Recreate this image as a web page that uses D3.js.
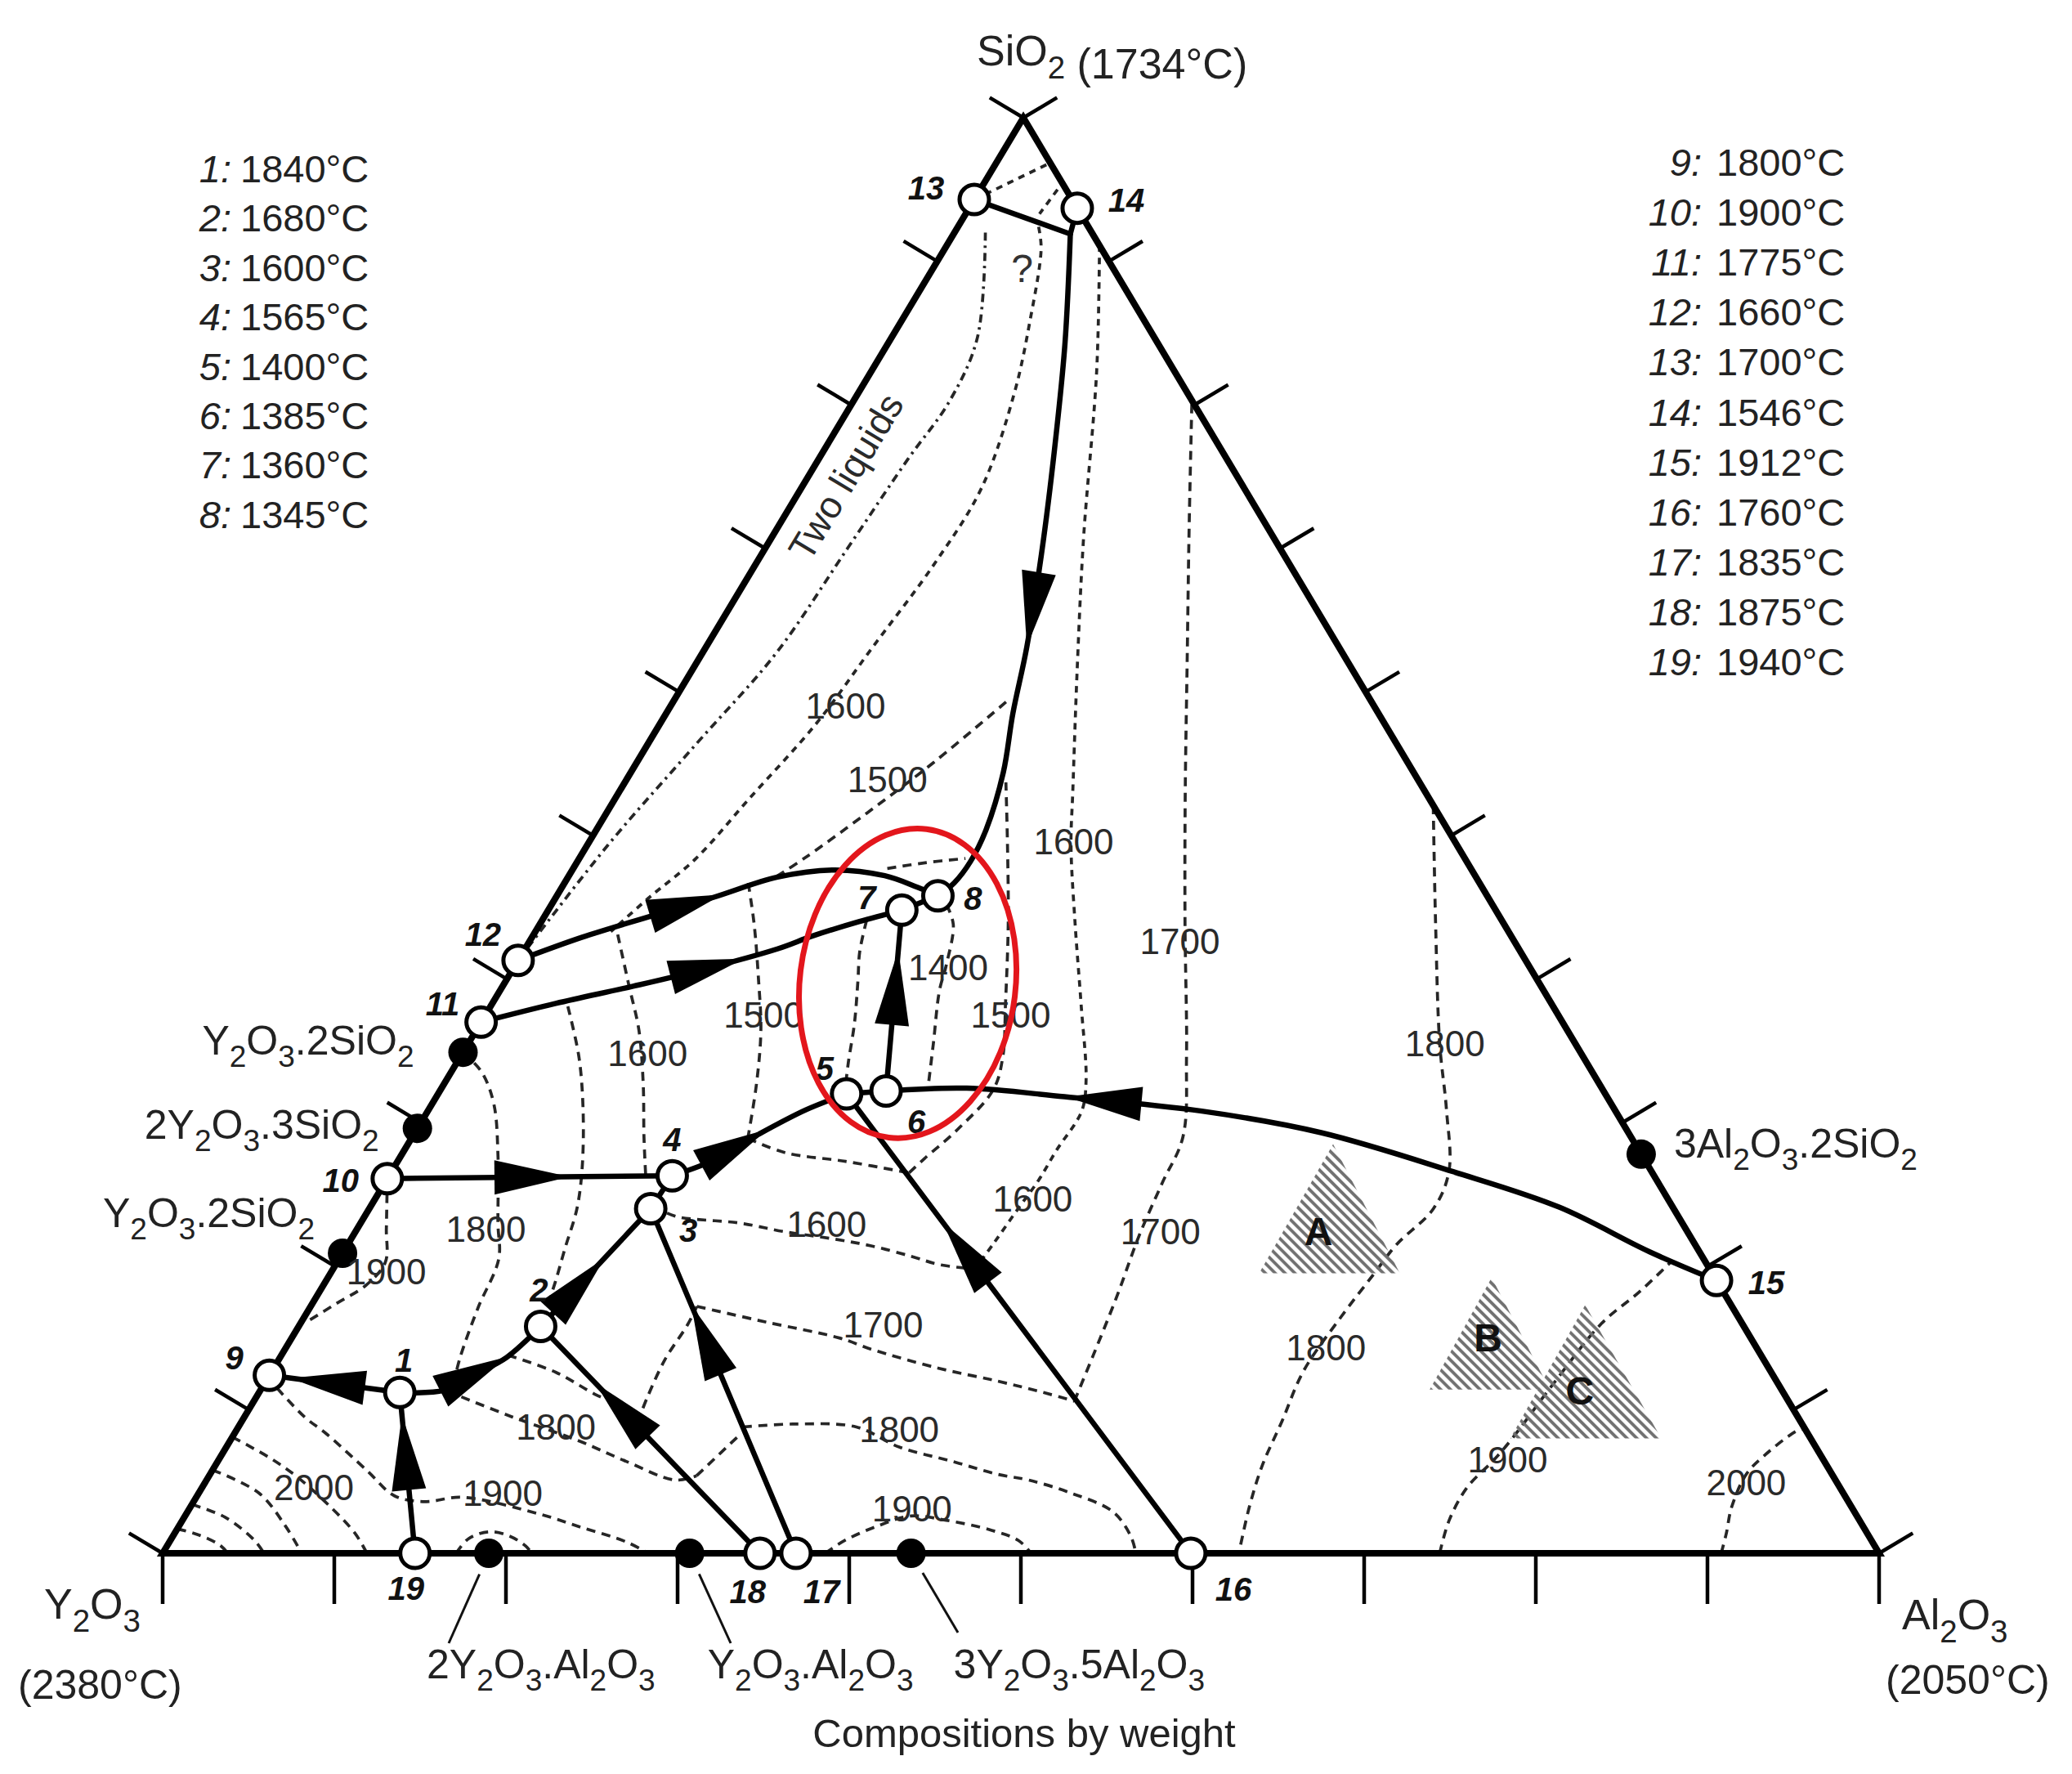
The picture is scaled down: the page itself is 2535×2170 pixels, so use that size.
<!DOCTYPE html>
<html><head><meta charset="utf-8"><title>Y2O3-Al2O3-SiO2 liquidus</title>
<script src="https://cdn.jsdelivr.net/npm/d3@7/dist/d3.min.js"></script>
<style>
html,body{margin:0;padding:0;background:#fff}
svg{display:block}
text{font-family:"Liberation Sans",Arial,Helvetica,sans-serif}
</style></head><body>
<svg id="chart" width="2535" height="2170"></svg>
<script>
// ================= DATA =================
// compositions are wt% [Al2O3, SiO2]; Y2O3 is the remainder
const vertexNames = ["Y2O3", "Al2O3", "SiO2"];
const vertexMelting = ["(2380°C)", "(2050°C)", "(1734°C)"];
const tickPercents = [0,10,20,30,40,50,60,70,80,90,100];

const legendLeftIds = ["1","2","3","4","5","6","7","8"];
const legendLeftTemps = [1840,1680,1600,1565,1400,1385,1360,1345];
const legendRightIds = ["9","10","11","12","13","14","15","16","17","18","19"];
const legendRightTemps = [1800,1900,1775,1660,1700,1546,1912,1760,1835,1875,1940];

// invariant points [id, Al2O3, SiO2]
const invariantPoints = [
  [1, 8.2, 11.2], [2, 14.1, 15.8], [3, 16.4, 24.0], [4, 16.5, 26.3],
  [5, 23.8, 32.0], [6, 26.0, 32.2], [7, 20.6, 44.8], [8, 22.2, 45.8],
  [9, 0, 12.4], [10, 0, 26.1], [11, 0, 37.0], [12, 0, 41.3],
  [13, 0, 94.3], [14, 6.3, 93.7], [15, 81.0, 19.0], [16, 59.9, 0],
  [17, 36.9, 0], [18, 34.8, 0], [19, 14.7, 0]
];

// binary compounds [printed label, Al2O3, SiO2]
const compounds = [
  ["Y2O3.2SiO2", 0, 34.9], ["2Y2O3.3SiO2", 0, 29.6], ["Y2O3.2SiO2", 0, 20.9],
  ["3Al2O3.2SiO2", 72.2, 27.8], ["2Y2O3.Al2O3", 19.0, 0],
  ["Y2O3.Al2O3", 30.7, 0], ["3Y2O3.5Al2O3", 43.6, 0]
];

// boundary curves, listed in the direction of falling temperature
const boundaryLines = [
  [[0,94.3],[6.8,91.9]],
  [[6.3,93.7],[6.8,91.9]],
  [[6.8,91.9],[10.3,84.3],[13.4,76.9],[16.3,69.6],[18.7,63.1],[20.2,58.5],[21.7,54.4],[22.7,50.4],[22.9,48.2],[22.7,46.7],[22.2,45.8]],
  [[0,41.3],[2.9,42.9],[6.0,44.3],[9.2,45.7],[12.2,47.1],[15.2,47.6],[18.4,47.2],[20.7,46.4],[22.2,45.8]],
  [[0,37.0],[3.7,38.3],[7.6,39.5],[10.9,40.6],[14.7,42.1],[16.3,43.0],[18.5,44.0],[20.6,44.8]],
  [[0,26.1],[16.5,26.3]],
  [[16.5,26.3],[18.4,27.4],[20.1,29.2],[22.0,30.9],[23.8,32.0]],
  [[81.0,19.0],[76.1,21.0],[69.3,24.1],[61.8,26.6],[52.8,29.3],[45.1,30.8],[36.6,31.8],[30.6,32.4],[26.0,32.2]],
  [[59.9,0],[23.8,32.0]],
  [[36.9,0],[16.4,24.0]],
  [[34.8,0],[14.1,15.8]],
  [[16.4,24.0],[16.5,26.3]],
  [[14.1,15.8],[16.4,24.0]],
  [[8.2,11.2],[10.7,11.35],[12.0,12.5],[13.2,13.65],[14.1,15.8]],
  [[8.2,11.2],[0,12.4]],
  [[14.7,0],[8.2,11.2]],
  [[26.0,32.2],[20.6,44.8]],
  [[23.8,32.0],[26.0,32.2]],
  [[20.6,44.8],[22.2,45.8]]
];
// arrow tips: [boundary index, fraction of the curve length]
const arrowTips = [[2,0.605],[3,0.49],[4,0.62],[5,0.64],[6,0.55],[7,0.79],[8,0.72],[9,0.72],[10,0.75],[12,0.58],[13,0.72],[14,0.84],[15,0.86],[16,0.78]];

// two-liquid boundary
const twoLiquidLine = [[1.8,92.0],[5.0,84.7],[5.6,80.3],[5.2,76.2],[4.8,70.0],[4.3,62.7],[2.8,56.3],[1.2,49.3],[0,41.3]];
// isotherms near the silica corner
const isothermsFine = [
  [[4.7,92.4],[5.6,90.9],[7.5,85.8],[9.1,80.8],[10.5,74.2],[10.4,68.9],[9.7,63.0],[9.1,57.8],[7.8,52.5],[6.8,48.4],[5.4,45.6],[4.4,43.3]],
  [[8.9,91.1],[13.1,82.4],[18.2,70.7],[22.3,61.8],[26.4,53.1],[28.2,49.3],[31.2,43.8],[34.3,38.3],[37.3,32.9],[38.1,30.8],[38.0,28.1],[38.0,26.0],[37.8,24.0],[37.6,21.7],[37.4,19.8]],
  [[0,94.3],[3.2,96.9]],
  [[4.5,95.0],[4.3,93.3]]
];
// remaining isotherms
const isotherms = [
  [[4.9,43.1],[7.3,39.6],[9.5,36.4],[11.6,32.7],[13.5,29.0],[14.9,26.4]],
  [[4.5,38.1],[6.9,34.6],[9.0,30.9],[11.0,26.8],[12.1,24.0],[12.8,21.2],[13.4,18.9],[13.8,17.1]],
  [[13.2,13.8],[16.6,12.6],[19.8,11.0],[22.1,10.1],[23.1,9.1]],
  [[23.1,9.1],[22.8,10.8],[22.5,13.5],[22.6,15.9],[22.5,17.2]],
  [[22.5,17.2],[27.1,16.1],[31.9,15.0],[34.2,14.2],[38.7,12.9],[42.6,12.0],[45.7,11.2],[47.8,10.6]],
  [[47.8,10.6],[47.3,13.8],[46.6,18.0],[45.8,22.1],[45.3,25.8],[44.9,29.0],[42.3,34.6],[37.6,43.8],[33.0,53.0],[28.5,62.2],[24.0,71.4],[19.7,80.3]],
  [[47.9,52.1],[52.2,43.8],[56.6,35.5],[59.3,30.9],[61.6,26.6],[62.0,24.0],[61.1,21.5],[60.8,19.4],[60.4,16.5],[60.1,12.7],[60.6,9.2],[61.0,6.1],[61.7,3.2],[62.7,0]],
  [[74.4,0],[73.8,2.3],[73.7,4.6],[74.3,6.5],[74.6,7.9],[75.1,11.8],[75.8,16.0],[76.9,18.2],[77.7,20.3]],
  [[90.8,0],[90.4,1.4],[89.8,3.2],[89.5,5.5],[89.9,6.8],[90.9,8.5],[91.3,8.7]],
  [[17.5,23.7],[18.4,23.4],[22.1,23.0],[25.0,22.4],[28.1,21.9],[30.6,21.4],[33.2,20.7],[35.2,20.1],[37.4,19.8]],
  [[19.4,59.3],[17.3,55.1],[15.2,51.6],[13.1,48.4],[12.0,47.0]],
  [[18.3,47.7],[20.3,48.1],[22.5,48.4]],
  [[10.7,46.7],[12.5,43.8],[14.6,40.1],[16.6,36.4],[18.2,32.7],[19.6,28.9]],
  [[19.6,28.9],[22.3,27.9],[26.1,27.3],[30.2,26.5]],
  [[30.2,26.5],[30.6,27.5],[31.5,29.5],[32.2,32.3],[31.6,34.6],[29.9,38.3],[27.3,43.8],[24.5,49.3],[22.2,53.7]],
  [[23.0,45.2],[24.1,43.8],[25.1,41.0],[25.6,39.2],[27.1,35.5],[28.3,32.5]],
  [[18.9,44.1],[19.6,41.9],[20.5,39.9],[21.8,36.9],[22.8,34.2],[23.4,32.7]],
  [[0,34.9],[1.8,33.5],[3.6,31.3],[5.7,27.6],[8.0,23.0],[9.3,20.5],[9.8,17.1],[10.5,13.6],[11.0,11.9]],
  [[10.9,11.3],[15.6,9.5],[20.4,7.8],[23.8,6.4],[27.3,5.1],[28.4,5.4]],
  [[28.4,5.4],[29.5,8.3]],
  [[29.4,8.8],[32.2,9.0],[36.0,8.8],[39.2,7.4],[42.8,6.4],[45.9,5.5],[47.9,5.1],[50.8,4.2],[53.9,2.9],[55.8,1.2],[56.7,0]],
  [[0.9,11.5],[3.5,9.5],[5.4,8.3],[9.1,5.7],[11.5,4.0],[13.5,3.6],[15.5,3.9],[20.7,2.7],[23.5,1.8],[26.6,0.8],[28.3,0]],
  [[0,26.1],[1.7,22.6],[2.8,20.3],[2.5,18.7],[1.4,17.4],[0.3,16.1]],
  [[0,8.1],[3.0,6.6],[5.2,5.3],[8.2,3.2],[10.5,1.4],[11.9,0]],
  [[0,5.8],[3.5,4.2],[6.2,1.9],[8.1,0]],
  [[0,3.4],[2.4,2.5],[4.9,0.9],[5.9,0]],
  [[0,1.7],[1.4,1.3],[3.0,0.6],[3.8,0]],
  [[17.1,0],[17.3,1.0],[18.3,1.5],[19.6,1.2],[20.9,0.5],[21.5,0]],
  [[38.6,0],[39.3,0.9],[40.7,1.9],[42.3,2.6],[44.5,2.3],[47.5,1.6],[49.4,0.9],[50.6,0]]
];

// isotherm labels [text, Al2O3, SiO2]
const isothermLabels = [
  ["1600",10.2,59.0],["1500",15.2,53.9],["1600",28.2,49.6],["1700",37.9,42.6],["1800",56.9,35.5],
  ["1400",25.3,40.8],["1500",16.2,37.5],["1500",30.6,37.5],["1600",10.8,34.8],["1800",7.5,22.6],
  ["1900",3.2,19.6],["1600",27.2,22.9],["1600",38.3,24.7],["1700",46.9,22.4],["1700",34.0,15.9],
  ["1800",18.5,8.8],["1800",38.6,8.6],["1900",17.7,4.2],["2000",6.5,4.6],["1900",42.1,3.1],
  ["1800",60.6,14.3],["1900",75.1,6.5],["2000",89.8,4.9]
];
const otherLabels = [["?",5.2,89.5],["Two liquids",2.2,75.0]];

// hatched composition regions
const regionNames = ["A","B","C"];
const regionCorners = [
  [[53.9,28.5],[54.1,19.5],[62.3,19.5]],
  [[67.8,19.2],[68.1,11.4],[75.1,11.4]],
  [[74.2,17.3],[74.5,8.0],[83.3,8.0]]
];
const regionLabelAt = [[56.1,22.4],[69.7,15.0],[76.9,11.3]];
// highlighted area (centre composition)
const highlightCentre = [23.5, 39.7];

// ================= LAYOUT =================
const svg = d3.select("#chart");
svg.append("rect").attr("width",2535).attr("height",2170).attr("fill","#fff");
const PY = [199,1900], PAl = [2299,1900], PSi = [1252,144];
const kSkew = (PSi[0]-PY[0])/(PAl[0]-PY[0]);
const xScale = d3.scaleLinear().domain([0,100]).range([PY[0], PAl[0]]);
const yScale = d3.scaleLinear().domain([0,100]).range([PY[1], PSi[1]]);
const proj = d => [xScale(d[0] + kSkew*d[1]), yScale(d[1])];
const TXT = "#222";

const smooth = d3.line().x(d=>proj(d)[0]).y(d=>proj(d)[1]).curve(d3.curveCatmullRom.alpha(0.5));

// defs: hatch
const defs = svg.append("defs");
const pat = defs.append("pattern").attr("id","hatch").attr("patternUnits","userSpaceOnUse")
  .attr("width",8.5).attr("height",8.5).attr("patternTransform","rotate(-45)");
pat.append("line").attr("x1",2).attr("y1",0).attr("x2",2).attr("y2",8.5).attr("stroke","#707070").attr("stroke-width",3.8);

// isotherms
const gIso = svg.append("g").attr("fill","none").attr("stroke","#262626").attr("stroke-width",3.7);
gIso.selectAll("path.iso").data(isotherms).join("path").attr("d",smooth).attr("stroke-dasharray","11,8");
gIso.selectAll("path.fine").data(isothermsFine).join("path").attr("d",smooth).attr("stroke-dasharray","8,7");
gIso.append("path").attr("d",smooth(twoLiquidLine)).attr("stroke-dasharray","10,6,3,6");

// hatched regions
svg.append("g").selectAll("path").data(regionCorners).join("path")
  .attr("d",d=>"M"+d.map(p=>proj(p).join(",")).join("L")+"Z")
  .attr("fill","url(#hatch)");
svg.append("g").selectAll("text").data(regionNames).join("text")
  .attr("x",(d,i)=>proj(regionLabelAt[i])[0]).attr("y",(d,i)=>proj(regionLabelAt[i])[1])
  .attr("text-anchor","middle").attr("dominant-baseline","central")
  .attr("font-size",48).attr("font-weight","bold").attr("fill","#111").text(d=>d);

// boundary curves
const gB = svg.append("g").attr("fill","none").attr("stroke","#000").attr("stroke-width",6.5).attr("stroke-linecap","round");
const bPaths = gB.selectAll("path").data(boundaryLines).join("path").attr("d",smooth).nodes();
const ARROW_LEN = 92, ARROW_HW = 21;
svg.append("g").selectAll("path").data(arrowTips).join("path").attr("fill","#000")
  .attr("d",([idx,t])=>{
    const node = bPaths[idx], L = node.getTotalLength();
    const tip = node.getPointAtLength(t*L);
    const back = node.getPointAtLength(Math.max(0,t*L-ARROW_LEN));
    let dx = tip.x-back.x, dy = tip.y-back.y; const n = Math.hypot(dx,dy); dx/=n; dy/=n;
    const bx = tip.x-dx*ARROW_LEN, by = tip.y-dy*ARROW_LEN, px=-dy, py=dx;
    return `M${tip.x},${tip.y}L${bx+px*ARROW_HW},${by+py*ARROW_HW}L${bx-px*ARROW_HW},${by-py*ARROW_HW}Z`;
  });

// triangle frame
const corners = [[0,0],[100,0],[0,100]].map(proj);
svg.append("path").attr("d","M"+corners.map(c=>c.join(",")).join("L")+"Z")
  .attr("fill","none").attr("stroke","#000").attr("stroke-width",8).attr("stroke-linejoin","miter").attr("stroke-miterlimit",10);

// ticks
function unit(v){const n=Math.hypot(v[0],v[1]);return [v[0]/n,v[1]/n];}
const eL = unit([PSi[0]-PY[0],PSi[1]-PY[1]]), eR = unit([PSi[0]-PAl[0],PSi[1]-PAl[1]]);
const nL = [eL[1], -eL[0]], nR = [-eR[1], eR[0]];
const ticks = [];
tickPercents.forEach(t=>{
  const b = proj([t,0]); ticks.push([b,[0,1],62]);
  const l = proj([0,t]); ticks.push([l,nL,48]);
  const r = proj([100-t,t]); ticks.push([r,nR,48]);
});
svg.append("g").attr("stroke","#000").attr("stroke-width",4.5).selectAll("line").data(ticks).join("line")
  .attr("x1",d=>d[0][0]).attr("y1",d=>d[0][1])
  .attr("x2",d=>d[0][0]+d[1][0]*d[2]).attr("y2",d=>d[0][1]+d[1][1]*d[2]);

// compound dots
svg.append("g").selectAll("circle").data(compounds).join("circle")
  .attr("cx",d=>proj([d[1],d[2]])[0]).attr("cy",d=>proj([d[1],d[2]])[1]).attr("r",18).attr("fill","#000");

// invariant points
svg.append("g").selectAll("circle").data(invariantPoints).join("circle")
  .attr("cx",d=>proj([d[1],d[2]])[0]).attr("cy",d=>proj([d[1],d[2]])[1]).attr("r",18)
  .attr("fill","#fff").attr("stroke","#000").attr("stroke-width",5);

// node labels (offsets in px)
const nodeLabelOffset = {1:[5,-39],2:[-2,-45],3:[46,26],4:[0,-44],5:[-27,-31],6:[37,37],7:[-43,-15],8:[43,3],
  9:[-43,-21],10:[-57,2],11:[-47,-22],12:[-43,-32],13:[-59,-14],14:[60,-10],15:[61,3],16:[52,44],17:[31,47],18:[-15,47],19:[-11,43]};
svg.append("g").selectAll("text").data(invariantPoints).join("text")
  .attr("x",d=>proj([d[1],d[2]])[0]+nodeLabelOffset[d[0]][0])
  .attr("y",d=>proj([d[1],d[2]])[1]+nodeLabelOffset[d[0]][1])
  .attr("text-anchor","middle").attr("dominant-baseline","central")
  .attr("font-size",40).attr("font-weight","bold").attr("font-style","italic").attr("fill","#111")
  .text(d=>d[0]);

// isotherm labels
svg.append("g").selectAll("text").data(isothermLabels).join("text")
  .attr("x",d=>proj([d[1],d[2]])[0]).attr("y",d=>proj([d[1],d[2]])[1])
  .attr("text-anchor","middle").attr("dominant-baseline","central")
  .attr("font-size",44).attr("fill","#2a2a2a").text(d=>d[0]);
// other labels
{
  const q = proj([otherLabels[0][1],otherLabels[0][2]]);
  svg.append("text").attr("x",q[0]).attr("y",q[1]).attr("text-anchor","middle").attr("dominant-baseline","central")
    .attr("font-size",48).attr("fill","#333").text(otherLabels[0][0]);
  const t = proj([otherLabels[1][1],otherLabels[1][2]]);
  const ang = Math.atan2(PSi[1]-PY[1], PSi[0]-PY[0])*180/Math.PI;
  svg.append("text").attr("transform",`translate(${t[0]},${t[1]}) rotate(${ang})`)
    .attr("text-anchor","middle").attr("dominant-baseline","central")
    .attr("font-size",46).attr("fill","#2a2a2a").text(otherLabels[1][0]);
}

// chemical formula text with subscripts
function chem(sel, str, fs){
  const toks=[];
  for(let i=0;i<str.length;i++){
    const c=str[i], prev=i>0?str[i-1]:"";
    const sub=/\d/.test(c)&&/[A-Za-z]/.test(prev);
    if(toks.length&&toks[toks.length-1].sub===sub) toks[toks.length-1].t+=c; else toks.push({t:c,sub});
  }
  let shifted=false;
  toks.forEach(tk=>{
    const ts=sel.append("tspan").text(tk.t);
    if(tk.sub){ts.attr("font-size",fs*0.74).attr("dy",shifted?0:fs*0.3);shifted=true;}
    else{ts.attr("font-size",fs).attr("dy",shifted?-fs*0.3:0);shifted=false;}
  });
}

// compound labels (offset from dot in px)
const compLabelPos = [
  {dx:-60, dy:3, anchor:"end"}, {dx:-47, dy:13, anchor:"end"}, {dx:-34, dy:-32, anchor:"end"},
  {dx:40, dy:4, anchor:"start"}, {dx:-76, y:2053, anchor:"start"}, {dx:22, y:2053, anchor:"start"}, {dx:52, y:2053, anchor:"start"}
];
const leaderEnds = [null,null,null,null,[549,2010],[894,2010],[1172,1997]];
compounds.forEach((c,i)=>{
  const p = proj([c[1],c[2]]), L = compLabelPos[i];
  const t = svg.append("text").attr("x",p[0]+L.dx).attr("y",L.y!==undefined?L.y:p[1]+L.dy)
    .attr("text-anchor",L.anchor).attr("font-size",50).attr("fill",TXT);
  chem(t,c[0],50);
  if(leaderEnds[i]){
    const dir = unit([leaderEnds[i][0]-p[0], leaderEnds[i][1]-p[1]]);
    svg.append("line").attr("x1",p[0]+dir[0]*28).attr("y1",p[1]+dir[1]*28)
      .attr("x2",leaderEnds[i][0]).attr("y2",leaderEnds[i][1]).attr("stroke","#111").attr("stroke-width",3);
  }
});

// vertex labels
{
  let t = svg.append("text").attr("x",1195).attr("y",80).attr("font-size",52).attr("fill",TXT);
  chem(t, vertexNames[2], 52); t.append("tspan").attr("dy",0).text(" "+vertexMelting[2]);
  t = svg.append("text").attr("x",54).attr("y",1980).attr("font-size",52).attr("fill",TXT); chem(t, vertexNames[0], 52);
  svg.append("text").attr("x",22).attr("y",2078).attr("font-size",50).attr("fill",TXT).text(vertexMelting[0]);
  t = svg.append("text").attr("x",2327).attr("y",1993).attr("font-size",52).attr("fill",TXT); chem(t, vertexNames[1], 52);
  svg.append("text").attr("x",2307).attr("y",2072).attr("font-size",50).attr("fill",TXT).text(vertexMelting[1]);
  svg.append("text").attr("x",1253).attr("y",2137).attr("text-anchor","middle").attr("font-size",49).attr("fill",TXT).text("Compositions by weight");
}

// legends
const gLeg = svg.append("g").attr("font-size",47).attr("fill",TXT);
legendLeftIds.forEach((id,i)=>{
  const y = 223 + 60.4*i;
  gLeg.append("text").attr("x",283).attr("y",y).attr("text-anchor","end").attr("font-style","italic").text(id+":");
  gLeg.append("text").attr("x",294).attr("y",y).text(legendLeftTemps[i]+"°C");
});
legendRightIds.forEach((id,i)=>{
  const y = 215 + 61.1*i;
  gLeg.append("text").attr("x",2082).attr("y",y).attr("text-anchor","end").attr("font-style","italic").text(id+":");
  gLeg.append("text").attr("x",2100).attr("y",y).text(legendRightTemps[i]+"°C");
});

// highlight ellipse
{
  const c = proj(highlightCentre);
  svg.append("ellipse").attr("cx",0).attr("cy",0).attr("rx",132).attr("ry",190)
    .attr("transform",`translate(${c[0]},${c[1]}) rotate(7)`)
    .attr("fill","none").attr("stroke","#e3161c").attr("stroke-width",7);
}
</script>
</body></html>
